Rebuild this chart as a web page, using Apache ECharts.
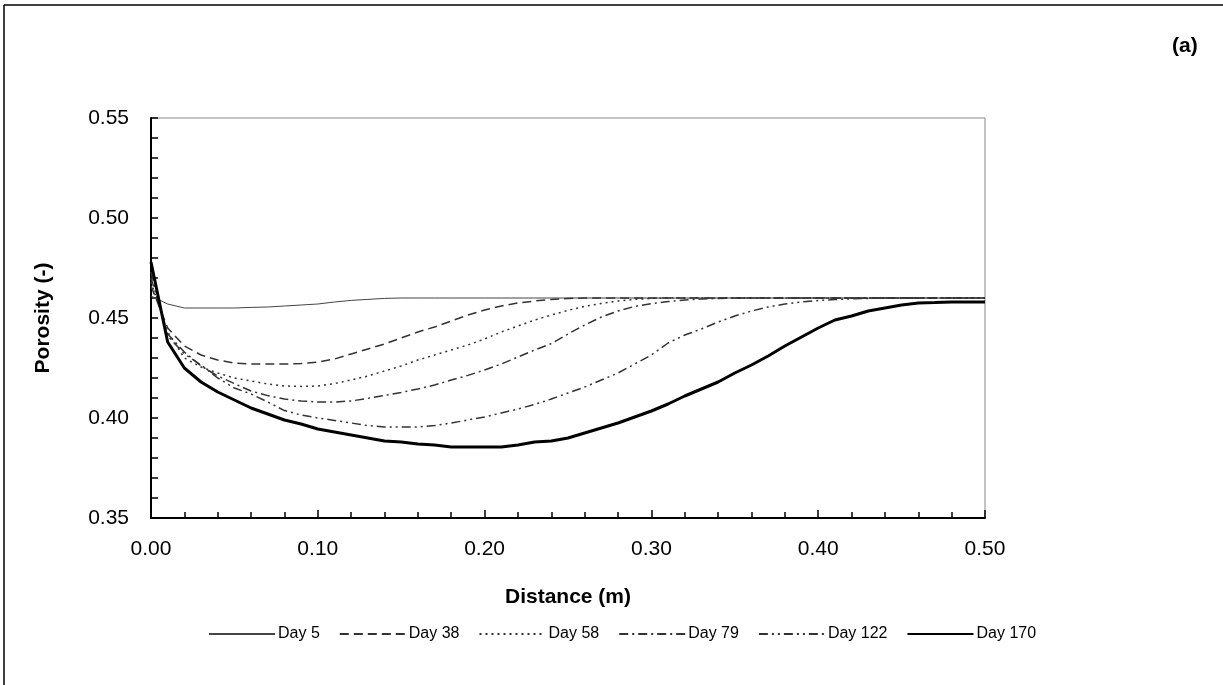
<!DOCTYPE html>
<html><head><meta charset="utf-8">
<script src="https://cdn.jsdelivr.net/npm/echarts@6/dist/echarts.min.js"></script>
<style>html,body{margin:0;padding:0;background:#fff}#c{width:1223px;height:685px}</style>
</head><body><div id="c"></div>
<script>
const distances = [0.00,0.01,0.02,0.03,0.04,0.05,0.06,0.07,0.08,0.09,0.10,0.11,0.12,0.13,0.14,0.15,0.16,0.17,0.18,0.19,0.20,0.21,0.22,0.23,0.24,0.25,0.26,0.27,0.28,0.29,0.30,0.31,0.32,0.33,0.34,0.35,0.36,0.37,0.38,0.39,0.40,0.41,0.42,0.43,0.44,0.45,0.46,0.47,0.48,0.49,0.50];
const seriesNames = ['Day 5','Day 38','Day 58','Day 79','Day 122','Day 170'];
const day5 = [0.461,0.457,0.455,0.455,0.455,0.455,0.4553,0.4555,0.456,0.4565,0.457,0.458,0.4588,0.4593,0.4598,0.46,0.46,0.46,0.46,0.46,0.46,0.46,0.46,0.46,0.46,0.46,0.46,0.46,0.46,0.46,0.46,0.46,0.46,0.46,0.46,0.46,0.46,0.46,0.46,0.46,0.46,0.46,0.46,0.46,0.46,0.46,0.46,0.46,0.46,0.46,0.46];
const day38 = [0.466,0.445,0.436,0.4315,0.429,0.4275,0.427,0.427,0.427,0.4272,0.428,0.4295,0.432,0.4345,0.437,0.440,0.443,0.4455,0.4485,0.4515,0.454,0.456,0.4575,0.4585,0.4593,0.4598,0.46,0.46,0.46,0.46,0.46,0.46,0.46,0.46,0.46,0.46,0.46,0.46,0.46,0.46,0.46,0.46,0.46,0.46,0.46,0.46,0.46,0.46,0.46,0.46,0.46];
const day58 = [0.468,0.443,0.430,0.4255,0.4225,0.420,0.4185,0.417,0.416,0.4158,0.416,0.4172,0.419,0.421,0.4235,0.426,0.429,0.4315,0.434,0.4365,0.4395,0.443,0.446,0.449,0.4515,0.4538,0.4558,0.4573,0.4585,0.4593,0.4598,0.46,0.46,0.46,0.46,0.46,0.46,0.46,0.46,0.46,0.46,0.46,0.46,0.46,0.46,0.46,0.46,0.46,0.46,0.46,0.46];
const day79 = [0.470,0.442,0.433,0.426,0.421,0.4172,0.4135,0.4112,0.4095,0.4085,0.408,0.408,0.4085,0.4098,0.4113,0.4128,0.4145,0.4165,0.419,0.4213,0.424,0.427,0.4305,0.434,0.4372,0.442,0.4465,0.4505,0.4535,0.4558,0.4572,0.4582,0.459,0.4595,0.4598,0.46,0.46,0.46,0.46,0.46,0.46,0.46,0.46,0.46,0.46,0.46,0.46,0.46,0.46,0.46,0.46];
const day122 = [0.473,0.441,0.432,0.4265,0.420,0.415,0.412,0.408,0.4037,0.4015,0.400,0.3988,0.3975,0.3962,0.3955,0.3955,0.3955,0.3962,0.3975,0.399,0.4005,0.4025,0.4045,0.4068,0.4095,0.4125,0.4155,0.419,0.4225,0.427,0.4315,0.4375,0.4415,0.4445,0.448,0.451,0.4535,0.4555,0.457,0.458,0.4587,0.4592,0.4596,0.4598,0.46,0.46,0.46,0.46,0.46,0.46,0.46];
const day170 = [0.478,0.438,0.425,0.418,0.413,0.409,0.405,0.402,0.399,0.397,0.3945,0.393,0.3915,0.390,0.3885,0.388,0.387,0.3865,0.3855,0.3855,0.3855,0.3855,0.3865,0.388,0.3885,0.390,0.3925,0.395,0.3975,0.4005,0.4035,0.407,0.411,0.4145,0.418,0.4225,0.4265,0.431,0.436,0.4405,0.445,0.449,0.451,0.4535,0.455,0.4565,0.4575,0.4577,0.458,0.458,0.458];
const values = [day5, day38, day58, day79, day122, day170];

const FONT = '"Liberation Sans", Arial, sans-serif';
const styles = [
  {color:'#444', width:1, type:'solid'},
  {color:'#333', width:1.5, type:[9,5]},
  {color:'#333', width:1.5, type:[2,4]},
  {color:'#333', width:1.5, type:[9,4,2,4]},
  {color:'#333', width:1.5, type:[9,4,2,4,2,4]},
  {color:'#000', width:3, type:'solid'}
];

const chart = echarts.init(document.getElementById('c'), null, {renderer:'canvas'});
chart.setOption({
  animation:false,
  backgroundColor:'#fff',
  textStyle:{fontFamily:FONT},
  grid:{left:151,right:238,top:118,bottom:167,show:true,borderColor:'#888',borderWidth:1,backgroundColor:'transparent'},
  xAxis:{
    type:'value',min:0,max:0.5,interval:0.1,
    name:'Distance (m)',nameLocation:'middle',nameGap:69,
    nameTextStyle:{fontFamily:FONT,fontSize:21,fontWeight:'bold',color:'#000'},
    axisLine:{lineStyle:{color:'#000',width:2}},
    axisTick:{inside:true,length:8,lineStyle:{color:'#000',width:1.5}},
    minorTick:{show:true,splitNumber:5,length:6,lineStyle:{color:'#000',width:1.5}},
    splitLine:{show:false},
    axisLabel:{fontFamily:FONT,fontSize:21,color:'#000',margin:21,formatter:v=>v.toFixed(2)}
  },
  yAxis:{
    type:'value',min:0.35,max:0.55,interval:0.05,
    name:'Porosity (-)',nameLocation:'middle',nameGap:97,nameRotate:90,
    nameTextStyle:{fontFamily:FONT,fontSize:21,fontWeight:'bold',color:'#000'},
    axisLine:{lineStyle:{color:'#000',width:2}},
    axisTick:{inside:true,length:7,lineStyle:{color:'#000',width:1.5}},
    minorTick:{show:true,splitNumber:5,length:7,lineStyle:{color:'#000',width:1.5}},
    splitLine:{show:false},
    axisLabel:{fontFamily:FONT,fontSize:21,color:'#000',margin:22,formatter:v=>v.toFixed(2)}
  },
  legend:{
    bottom:38,left:203,itemWidth:66,itemHeight:12,itemGap:19,
    itemStyle:{color:'rgba(0,0,0,0)',borderWidth:0,opacity:0},
    textStyle:{fontFamily:FONT,fontSize:16,color:'#000',padding:[0,0,0,-2]},
    data:seriesNames
  },
  series:seriesNames.map((n,i)=>({
    name:n,type:'line',symbol:'none',showSymbol:false,smooth:false,
    lineStyle:{color:styles[i].color,width:styles[i].width,type:styles[i].type},
    itemStyle:{color:styles[i].color},
    z: i===5?5:3,
    data:distances.map((d,j)=>[d,values[i][j]])
  })),
  graphic:[
    {type:'line',shape:{x1:4,y1:5,x2:1223,y2:5},style:{stroke:'#000',lineWidth:1.5}},
    {type:'line',shape:{x1:4,y1:5,x2:4,y2:685},style:{stroke:'#000',lineWidth:1.5}},
    {type:'text',left:1172,top:36,style:{text:'(a)',font:'bold 21px "Liberation Sans", Arial, sans-serif',fill:'#000'}}
  ]
});
</script></body></html>
